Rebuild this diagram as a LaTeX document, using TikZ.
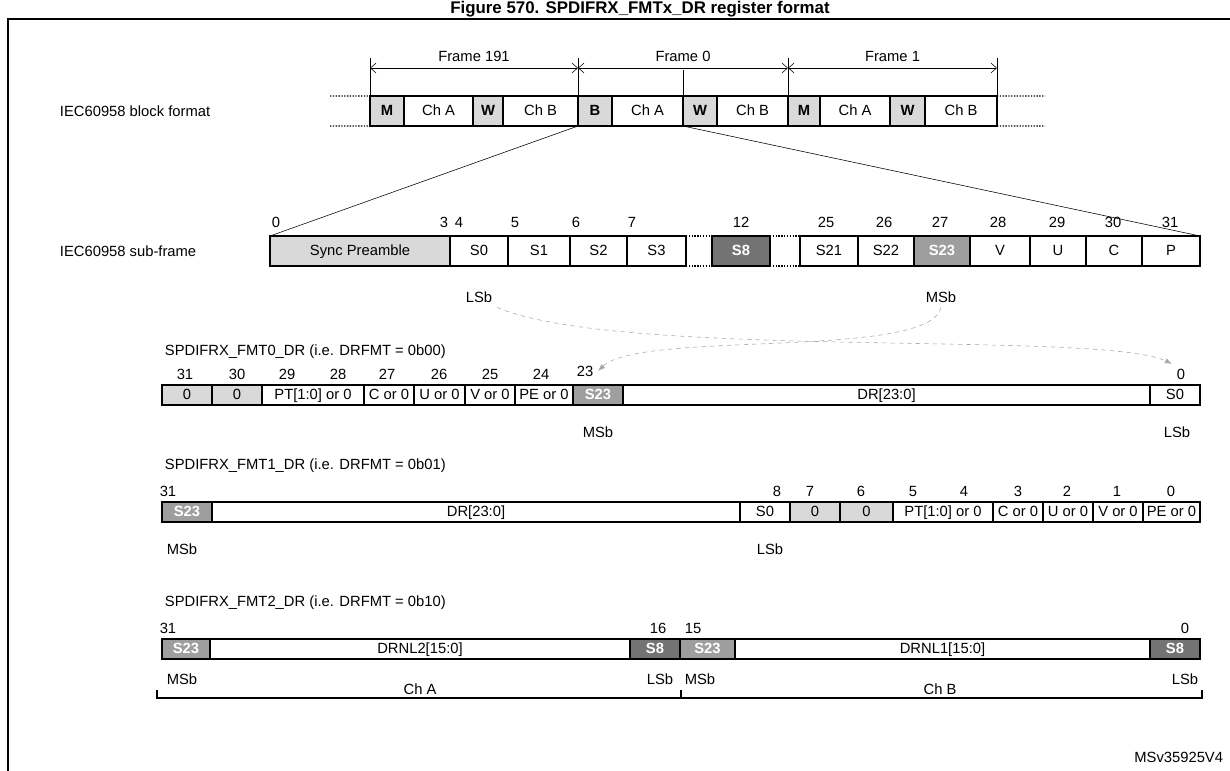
\documentclass[tikz,border=0pt]{standalone}
\usepackage{fontspec}
\setmainfont{Liberation Sans}
\usetikzlibrary{positioning, arrows.meta}
\definecolor{lgray}{gray}{0.85}
\definecolor{mgray}{gray}{0.62}
\definecolor{dgray}{gray}{0.45}
\tikzset{
  x=0.025cm, y=-0.025cm,
  every node/.style={font=\fontsize{10.5}{12}\selectfont},
  cell/.style={draw, line width=0.9pt, inner sep=0pt, outer sep=0pt, minimum height=0.5cm, text height=1.6ex, text depth=0.45ex},
  plain/.style={fill=white},
  pale/.style={fill=lgray},
  palebold/.style={fill=lgray, font=\fontsize{10.5}{12}\selectfont\bfseries},
  msb/.style={fill=mgray, text=white, font=\fontsize{10.5}{12}\selectfont\bfseries},
  dark/.style={fill=dgray, text=white, font=\fontsize{10.5}{12}\selectfont\bfseries},
  dots/.style={densely dotted, line width=1pt},
  span/.style={{Straight Barb[length=4pt,width=7pt]}-{Straight Barb[length=4pt,width=7pt]}, thin},
  swap/.style={gray!70, dashed, -{Latex[length=5pt]}, thin},
}
\begin{document}
\begin{tikzpicture}
  \useasboundingbox (0,0) rectangle (1230,770);
  \draw[line width=0.8pt] (8,780) -- (8,19) -- (1240,19);
  \node[font=\fontsize{12}{13}\selectfont\bfseries] (title) at (640,9) {Figure 570. SPDIFRX\_FMTx\_DR register format};

  % block format
  \node[anchor=west] (lblk) at (55,111) {IEC60958 block format};
  \foreach \a/\b/\t/\s [count=\i] in {370/404/M/palebold, 404/473/Ch A/plain, 473/503/W/palebold, 503/578/Ch B/plain,
      578/612/B/palebold, 612/683/Ch A/plain, 683/717/W/palebold, 717/788/Ch B/plain,
      788/820/M/palebold, 820/890/Ch A/plain, 890/925/W/palebold, 925/997/Ch B/plain}
    \node[cell, \s, minimum width={(\b-\a)*0.025cm}, minimum height=0.75cm] (blk\i) at ({(\a+\b)/2},111) {\t};
  \draw[dots] (330,96) -- (blk1.north west) (330,126) -- (blk1.south west);
  \draw[dots] (blk12.north east) -- (1045,96) (blk12.south east) -- (1045,126);
  \foreach \x in {370,578,788,997} \draw[thin] (\x,58) -- (\x,96);
  \draw[thin] (683,70) -- (683,126);
  \draw[span] (370,68) -- node[above=1pt] (f191) {Frame 191} (578,68);
  \draw[span] (578,68) -- node[above=1pt] (f0) {Frame 0} (788,68);
  \draw[span] (788,68) -- node[above=1pt] (f1) {Frame 1} (997,68);

  % sub-frame
  \node[anchor=west] (lsub) at (55,251) {IEC60958 sub-frame};
  \foreach \a/\b/\t/\s [count=\i] in {270/450/Sync Preamble/pale, 450/508/S0/plain, 508/570/S1/plain, 570/627/S2/plain,
      627/686/S3/plain, 712/770/S8/dark, 800/858/S21/plain, 858/914/S22/plain, 914/970/S23/msb,
      970/1030/V/plain, 1030/1086/U/plain, 1086/1142/C/plain, 1142/1200/P/plain}
    \node[cell, \s, minimum width={(\b-\a)*0.025cm}, minimum height=0.75cm] (sub\i) at ({(\a+\b)/2},251) {\t};
  \draw[dots] (sub5.north east) -- (sub6.north west) (sub5.south east) -- (sub6.south west)
              (sub6.north east) -- (sub7.north west) (sub6.south east) -- (sub7.south west);
  \foreach \x/\t in {276/0, 444/3, 459/4, 515/5, 576/6, 632/7, 741/12, 826/25, 884/26, 940/27, 998/28, 1057/29, 1113/30, 1170/31}
    \node (sb\t) at (\x,222) {\t};
  \draw[thin] (blk4.south east) -- (sub1.north west);
  \draw[thin] (blk6.south east) -- (sub13.north east);
  \node (slsb) at (479,297) {LSb};
  \node (smsb) at (941,297) {MSb};

  % FMT0
  \node[anchor=west] (l0) at (160,352) {SPDIFRX\_FMT0\_DR (i.e. DRFMT = 0b00)};
  \foreach \a/\b/\t/\s [count=\i] in {162/212/0/pale, 212/262/0/pale, 262/364/PT[1:0] or 0/plain, 364/414/C or 0/plain,
      414/465/U or 0/plain, 465/515/V or 0/plain, 515/573/PE or 0/plain, 573/623/S23/msb, 623/1150/DR[23:0]/plain, 1150/1200/S0/plain}
    \node[cell, \s, minimum width={(\b-\a)*0.025cm}] (za\i) at ({(\a+\b)/2},395) {\t};
  \foreach \x/\t in {185/31, 237/30, 287/29, 338/28, 387/27, 439/26, 490/25, 541/24}
    \node at (\x,374) {\t};
  \node (za23) at (585,371) {23};
  \node (zb0) at (1181,374) {0};
  \node (zmsb) at (598,432) {MSb};
  \node (zlsb) at (1177,432) {LSb};
  \draw[swap] (slsb.south east) .. controls (620,360) and (1100,330) .. (zb0.north west);
  \draw[swap] (smsb.south) .. controls (930,360) and (640,330) .. (za23.east);

  % FMT1
  \node[anchor=west] (l1) at (160,466) {SPDIFRX\_FMT1\_DR (i.e. DRFMT = 0b01)};
  \foreach \a/\b/\t/\s [count=\i] in {162/212/S23/msb, 212/740/DR[23:0]/plain, 740/790/S0/plain, 790/840/0/pale,
      840/893/0/pale, 893/993/PT[1:0] or 0/plain, 993/1043/C or 0/plain, 1043/1093/U or 0/plain, 1093/1143/V or 0/plain, 1143/1200/PE or 0/plain}
    \node[cell, \s, minimum width={(\b-\a)*0.025cm}] (oa\i) at ({(\a+\b)/2},512) {\t};
  \foreach \x/\t in {168/31, 777/8, 810/7, 861/6, 913/5, 964/4, 1018/3, 1067/2, 1117/1, 1171/0}
    \node at (\x,491) {\t};
  \node (omsb) at (182,549) {MSb};
  \node (olsb) at (770,549) {LSb};

  % FMT2
  \node[anchor=west] (l2) at (160,603) {SPDIFRX\_FMT2\_DR (i.e. DRFMT = 0b10)};
  \foreach \a/\b/\t/\s [count=\i] in {162/210/S23/msb, 210/630/DRNL2[15:0]/plain, 630/680/S8/dark,
      680/735/S23/msb, 735/1150/DRNL1[15:0]/plain, 1150/1200/S8/dark}
    \node[cell, \s, minimum width={(\b-\a)*0.025cm}] (ta\i) at ({(\a+\b)/2},649) {\t};
  \foreach \x/\t in {168/31, 658/16, 693/15, 1185/0}
    \node at (\x,628) {\t};
  \node (tmsa) at (182,679) {MSb};
  \node (tlsa) at (660,679) {LSb};
  \node (tmsb) at (700,679) {MSb};
  \node (tlsb) at (1185,679) {LSb};
  \node (cha) at (420,689) {Ch A};
  \node (chb) at (940,689) {Ch B};
  \draw[line width=1.2pt] (157,690) -- (157,698) -- (1202,698) -- (1202,690);
  \draw[line width=1.2pt] (681,690) -- (681,698);
  \node[anchor=east] (ref) at (1228,757) {MSv35925V4};
\end{tikzpicture}
\end{document}
